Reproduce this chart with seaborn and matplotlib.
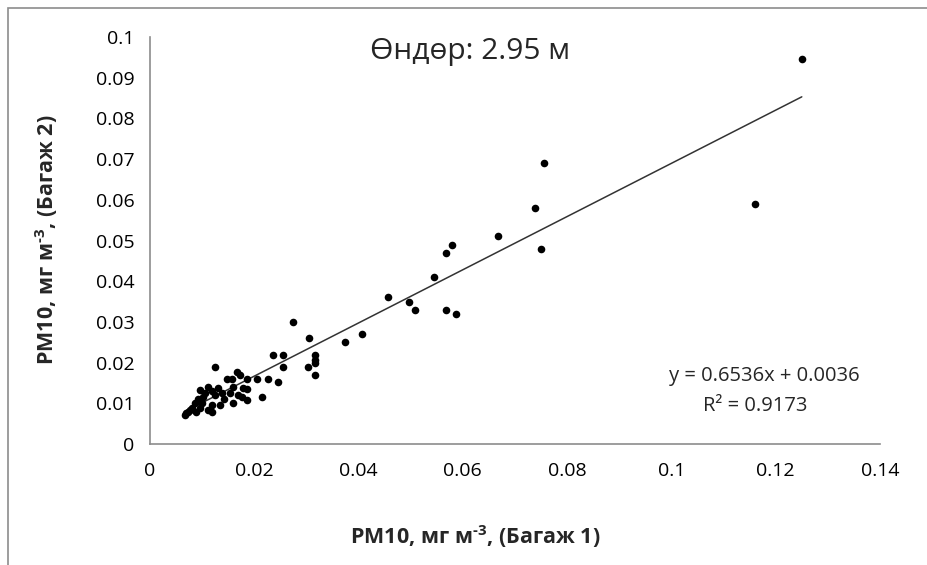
import matplotlib
matplotlib.use("Agg")
import matplotlib.pyplot as plt
import seaborn as sns
import numpy as np
import pandas as pd
from matplotlib.patches import Rectangle

# Data
x_vals = [0.1250, 0.1160, 0.0755, 0.0738, 0.0750, 0.0667, 0.0579, 0.0568, 0.0545, 0.0456,
          0.0497, 0.0508, 0.0568, 0.0587, 0.0407, 0.0374, 0.0274, 0.0305,
          0.0236, 0.0255, 0.0255, 0.0316, 0.0316, 0.0316, 0.0303, 0.0316, 0.0245, 0.0226,
          0.0205, 0.0215, 0.0186, 0.0167, 0.0173, 0.0186, 0.0157, 0.0169, 0.0186, 0.0159,
          0.0125, 0.0148, 0.0178, 0.0111, 0.0096, 0.0130, 0.0138, 0.0153, 0.0125, 0.0102,
          0.0176, 0.0119, 0.0134, 0.0100, 0.0086, 0.0081, 0.0096, 0.0111, 0.0073, 0.0067,
          0.0088, 0.0119, 0.0076, 0.0119, 0.0142, 0.0092, 0.0105, 0.0160, 0.0070]
y_vals = [0.0946, 0.0590, 0.0690, 0.0580, 0.0480, 0.0510, 0.0490, 0.0470, 0.0410, 0.0360,
          0.0350, 0.0330, 0.0330, 0.0320, 0.0270, 0.0250, 0.0300, 0.0260,
          0.0219, 0.0219, 0.0189, 0.0219, 0.0206, 0.0199, 0.0189, 0.0170, 0.0152, 0.0160,
          0.0160, 0.0115, 0.0135, 0.0177, 0.0170, 0.0160, 0.0160, 0.0120, 0.0108, 0.0101,
          0.0189, 0.0160, 0.0138, 0.0140, 0.0133, 0.0138, 0.0125, 0.0125, 0.0120, 0.0115,
          0.0115, 0.0096, 0.0096, 0.0101, 0.0101, 0.0088, 0.0088, 0.0084, 0.0079, 0.0071,
          0.0079, 0.0079, 0.0084, 0.0130, 0.0110, 0.0110, 0.0125, 0.0140, 0.0076]
slope = 0.6536
intercept = 0.0036
x_ticks = [0, 0.02, 0.04, 0.06, 0.08, 0.1, 0.12, 0.14]
y_ticks = [0, 0.01, 0.02, 0.03, 0.04, 0.05, 0.06, 0.07, 0.08, 0.09, 0.1]
title = "Өндөр: 2.95 м"
xlabel = r"PM10, мг м$^{\text{-3}}$, (Багаж 1)"
ylabel = r"PM10, мг м$^{\text{-3}}$, (Багаж 2)"
eq_text = "y = 0.6536x + 0.0036"
r2_text = "R² = 0.9173"

df = pd.DataFrame({"x": x_vals, "y": y_vals})

sns.set_theme(style="white")
fam = ["Open Sans", "DejaVu Sans"]
plt.rcParams["font.family"] = fam
plt.rcParams["mathtext.fontset"] = "custom"
plt.rcParams["mathtext.rm"] = "Open Sans:bold"
plt.rcParams["mathtext.bf"] = "Open Sans:bold"
plt.rcParams["mathtext.it"] = "Open Sans:bold"

W, H = 928, 565
fig = plt.figure(figsize=(W / 100, H / 100), dpi=100)
fig.patch.set_facecolor("white")
fig.patches.append(Rectangle((8 / W, -0.1), 1.2, 1 - 8 / H + 0.1, transform=fig.transFigure,
                             fill=False, edgecolor="#8c8c8c", linewidth=1.2))

ax = fig.add_axes([150 / W, 1 - 444 / H, (880 - 150) / W, (444 - 37) / H])
ax.set_facecolor("white")

sns.scatterplot(data=df, x="x", y="y", ax=ax, color="black", s=30, edgecolor="black",
                linewidth=0, zorder=3, legend=False)

xl = np.array([min(x_vals), max(x_vals)])
sns.lineplot(x=xl, y=slope * xl + intercept, ax=ax, color="#333333", linewidth=1.1,
             zorder=2, legend=False)

ax.set_xlim(0, 0.14)
ax.set_ylim(0, 0.1)
ax.set_xticks(x_ticks)
ax.set_yticks(y_ticks)
ax.set_xticklabels([f"{t:g}" for t in x_ticks])
ax.set_yticklabels([f"{t:g}" for t in y_ticks])
for s in ["top", "right"]:
    ax.spines[s].set_visible(False)
for s in ["left", "bottom"]:
    ax.spines[s].set_color("#8c8c8c")
    ax.spines[s].set_linewidth(1.2)
ax.tick_params(axis="both", direction="out", length=5, width=1.2, color="#8c8c8c",
               labelsize=14, labelcolor="black", pad=6)
ax.tick_params(axis="x", pad=8)
ax.set_xlabel("")
ax.set_ylabel("")

fig.text(475 / W, 1 - 537 / H, xlabel, fontsize=15.5, fontweight="bold", family=fam,
         ha="center", va="center")
fig.text(47 / W, 1 - 240 / H, ylabel, fontsize=15.5, fontweight="bold", family=fam,
         ha="center", va="center", rotation=90)

fig.text(470 / W, 1 - 52 / H, title, fontsize=21.5, ha="center", va="center", family=fam)
fig.text(764 / W, 1 - 376 / H, eq_text, fontsize=14.5, ha="center", va="center", family=fam)
fig.text(755 / W, 1 - 406 / H, r2_text, fontsize=14.5, ha="center", va="center", family=fam)

fig.savefig("out.png", dpi=100, facecolor="white")
